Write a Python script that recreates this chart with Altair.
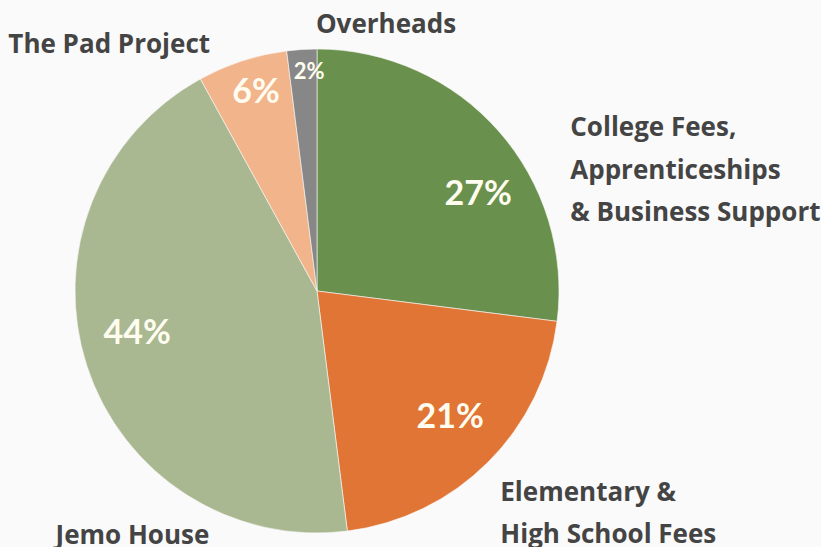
import math
import altair as alt
import pandas as pd

categories = [
    "College Fees, Apprenticeships & Business Support",
    "Elementary & High School Fees",
    "Jemo House",
    "The Pad Project",
    "Overheads",
]
label_lines = [
    "College Fees,\nApprenticeships\n& Business Support",
    "Elementary &\nHigh School Fees",
    "Jemo House",
    "The Pad Project",
    "Overheads",
]
values = [27, 21, 44, 6, 2]
slice_order = [0, 1, 2, 3, 4]
colors = ["#6a904d", "#e07535", "#a9b891", "#f2b48b", "#878787"]

df = pd.DataFrame({"category": categories, "label": label_lines,
                   "value": values, "order": slice_order})

CX, CY, R = 317, 291, 242
BG = "#fafafa"
theta_scale = alt.Scale(domain=[0, 100], range=[0, 2 * math.pi])

base = alt.Chart(df)

pie = base.mark_arc(outerRadius=R, stroke=BG, strokeWidth=0.6).encode(
    theta=alt.Theta("value:Q", stack=True, scale=theta_scale),
    color=alt.Color("category:N", scale=alt.Scale(domain=categories, range=colors), legend=None),
    order=alt.Order("order:Q"),
    x=alt.value(CX),
    y=alt.value(CY),
)


def text_layer(cat, field, radius, dx, dy, align, size, color, font, line_height=None):
    mark_kw = dict(radius=radius, dx=dx, dy=dy, align=align, baseline="middle",
                   font=font, fontWeight="bold", fontSize=size, color=color)
    if line_height:
        mark_kw["lineBreak"] = "\n"
        mark_kw["lineHeight"] = line_height
    return (
        base.transform_window(cum="sum(value)", sort=[alt.SortField("order")], frame=[None, 0])
        .transform_calculate(mid="datum.cum - datum.value / 2", pct="datum.value + '%'")
        .transform_filter(alt.datum.category == cat)
        .mark_text(**mark_kw)
        .encode(
            theta=alt.Theta("mid:Q", scale=theta_scale, stack=None),
            text=alt.Text(field + ":N"),
            x=alt.value(CX),
            y=alt.value(CY),
        )
    )


TXT = "#444444"
PCT = "#fffdf0"
PF = "Lato"
LF = "Open Sans"
LS = 26
layers = [pie]
# percentage labels
layers.append(text_layer(categories[0], "pct", 187, 21, 28, "center", 34, PCT, PF))
layers.append(text_layer(categories[1], "pct", 187, 1, -5, "center", 34, PCT, PF))
layers.append(text_layer(categories[2], "pct", 187, -2, -15, "center", 34, PCT, PF))
layers.append(text_layer(categories[3], "pct", 207, 3, -1, "center", 34, PCT, PF))
layers.append(text_layer(categories[4], "pct", 219, 6, 0, "center", 22, PCT, PF))
# category labels
layers.append(text_layer(categories[0], "label", 255, 62, 6, "left", LS, TXT, LF, 42.5))
layers.append(text_layer(categories[1], "label", 255, 3, 22, "left", LS, TXT, LF, 42))
layers.append(text_layer(categories[2], "label", 255, 58, 166, "center", LS, TXT, LF))
layers.append(text_layer(categories[3], "label", 255, -129, -3, "center", LS, TXT, LF))
layers.append(text_layer(categories[4], "label", 255, 85, -12, "center", LS, TXT, LF))

chart = (
    alt.layer(*layers)
    .properties(width=821, height=547, padding=0, background=BG,
                autosize=alt.AutoSizeParams(type="none"))
    .configure_view(stroke=None)
)

chart.save("out.html", embed_options={"renderer": "svg", "actions": False})
